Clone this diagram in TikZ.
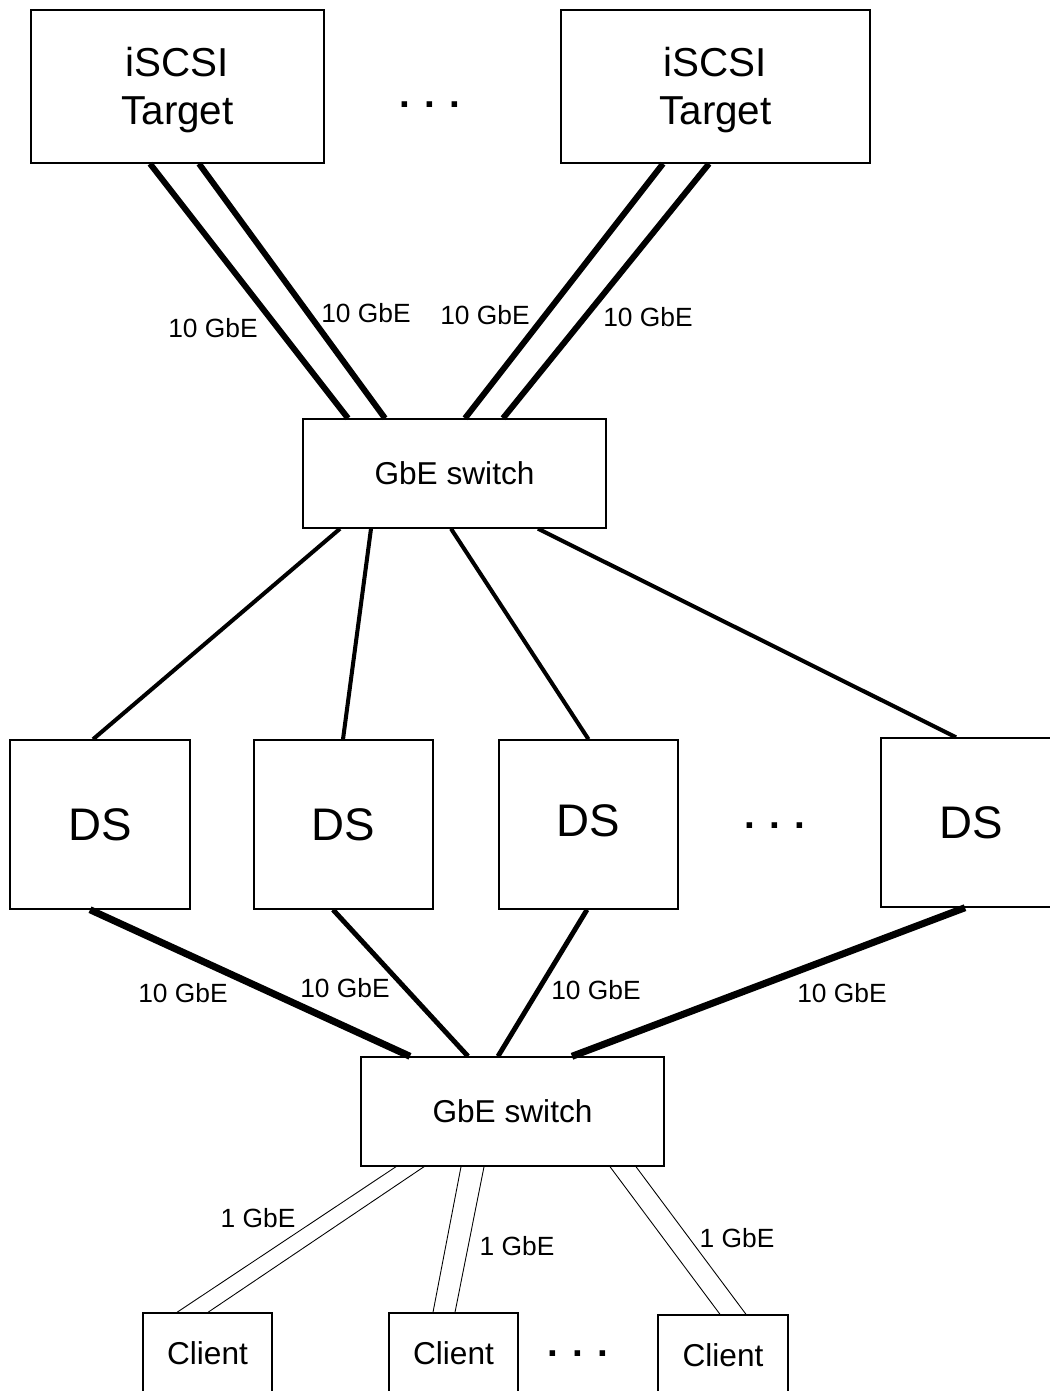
\documentclass[tikz,border=0pt]{standalone}
\usepackage{fontspec}
\setmainfont{Liberation Sans}
\usetikzlibrary{calc}

\begin{document}
\begin{tikzpicture}[x=0.02cm,y=-0.02cm,
		box/.style={draw,line width=0.8pt,rectangle,inner sep=0pt},
		fat/.style={line width=3.4pt},
		mid/.style={line width=2.3pt},
		thin/.style={line width=0.5pt},
		gbe/.style={font=\fontsize{15}{18}\selectfont,inner sep=0pt},
		tgt/.style={align=center,font=\fontsize{23}{27}\selectfont,yshift=-2pt},
		dots/.style={font=\fontsize{22}{26}\selectfont\bfseries,anchor=base,inner sep=0pt}]
		\clip (0,0) rectangle (1050,1391);
		\node[box,minimum width=293*0.02cm,minimum height=153*0.02cm,label={[tgt]center:iSCSI\\Target}] (t1) at (177.5,86.5) {};
		\node[box,minimum width=309*0.02cm,minimum height=153*0.02cm,label={[tgt]center:iSCSI\\Target}] (t2) at (715.5,86.5) {};
		\node[dots] (d1) at (430,108) {. . .};
		\node[box,minimum width=303*0.02cm,minimum height=109*0.02cm,font=\fontsize{18}{22}\selectfont] (sw1) at (454.5,473.5) {GbE switch};
		\node[box,minimum width=180*0.02cm,minimum height=169*0.02cm,font=\fontsize{26}{30}\selectfont] (ds1) at (100,824.5) {DS};
		\node[box,minimum width=179*0.02cm,minimum height=169*0.02cm,font=\fontsize{26}{30}\selectfont] (ds2) at (343.5,824.5) {DS};
		\node[box,minimum width=179*0.02cm,minimum height=169*0.02cm,font=\fontsize{26}{30}\selectfont,text depth=5pt] (ds3) at (588.5,824.5) {DS};
		\node[box,minimum width=180*0.02cm,minimum height=169*0.02cm,font=\fontsize{26}{30}\selectfont] (ds4) at (971,822.5) {DS};
		\node[dots] (d2) at (775,828) {. . .};
		\node[box,minimum width=303*0.02cm,minimum height=109*0.02cm,font=\fontsize{18}{22}\selectfont] (sw2) at (512.5,1111.5) {GbE switch};
		\node[box,minimum width=129*0.02cm,minimum height=80*0.02cm,font=\fontsize{18}{22}\selectfont] (c1) at (207.5,1353) {Client};
		\node[box,minimum width=129*0.02cm,minimum height=80*0.02cm,font=\fontsize{18}{22}\selectfont] (c2) at (453.5,1353) {Client};
		\node[box,minimum width=130*0.02cm,minimum height=80*0.02cm,font=\fontsize{18}{22}\selectfont] (c3) at (723,1355) {Client};
		\node[dots] (d3) at (578,1356) {. . .};
		\draw[fat] ($(t1.south)+(-27.5,0)$) -- ($(sw1.north)+(-106.5,0)$);
		\draw[fat] ($(t1.south)+(21.5,0)$) -- ($(sw1.north)+(-69.5,0)$);
		\draw[fat] ($(t2.south)+(-52.5,0)$) -- ($(sw1.north)+(10.5,0)$);
		\draw[fat] ($(t2.south)+(-6.5,0)$) -- ($(sw1.north)+(48.5,0)$);
		\node[gbe] (l1) at (213,328) {10 GbE};
		\node[gbe] (l2) at (366,313) {10 GbE};
		\node[gbe] (l3) at (485,315) {10 GbE};
		\node[gbe] (l4) at (648,317) {10 GbE};
		\draw[mid] ($(sw1.south)+(-114.5,0)$) -- ($(ds1.north)+(-7,0)$);
		\draw[mid] ($(sw1.south)+(-83.5,0)$) -- ($(ds2.north)+(-0.5,0)$);
		\draw[mid] ($(sw1.south)+(-3.5,0)$) -- ($(ds3.north)+(0,0)$);
		\draw[mid] ($(sw1.south)+(83.5,0)$) -- ($(ds4.north)+(-15,0)$);
		\draw[line width=4pt] ($(ds1.south)+(-10,0)$) -- ($(sw2.north)+(-102.5,0)$);
		\draw[line width=2.8pt] ($(ds2.south)+(-10.5,0)$) -- ($(sw2.north)+(-44.5,0)$);
		\draw[line width=2.8pt] ($(ds3.south)+(-1.5,0)$) -- ($(sw2.north)+(-14.5,0)$);
		\draw[line width=4pt] ($(ds4.south)+(-6,0)$) -- ($(sw2.north)+(59.5,0)$);
		\node[gbe] (l5) at (183,993) {10 GbE};
		\node[gbe] (l6) at (345,988) {10 GbE};
		\node[gbe] (l7) at (596,990) {10 GbE};
		\node[gbe] (l8) at (842,993) {10 GbE};
		\draw[thin] ($(sw2.south)+(-116.5,0)$) -- ($(c1.north)+(-30.5,0)$);
		\draw[thin] ($(sw2.south)+(-88.5,0)$) -- ($(c1.north)+(0.5,0)$);
		\draw[thin] ($(sw2.south)+(-51.5,0)$) -- ($(c2.north)+(-20.5,0)$);
		\draw[thin] ($(sw2.south)+(-28.5,0)$) -- ($(c2.north)+(1.5,0)$);
		\draw[thin] ($(sw2.south)+(97.5,0)$) -- ($(c3.north)+(-3,0)$);
		\draw[thin] ($(sw2.south)+(123.5,0)$) -- ($(c3.north)+(23,0)$);
		\node[gbe] (l9) at (258,1218) {1 GbE};
		\node[gbe] (l10) at (517,1246) {1 GbE};
		\node[gbe] (l11) at (737,1238) {1 GbE};
	\end{tikzpicture}
\end{document}
